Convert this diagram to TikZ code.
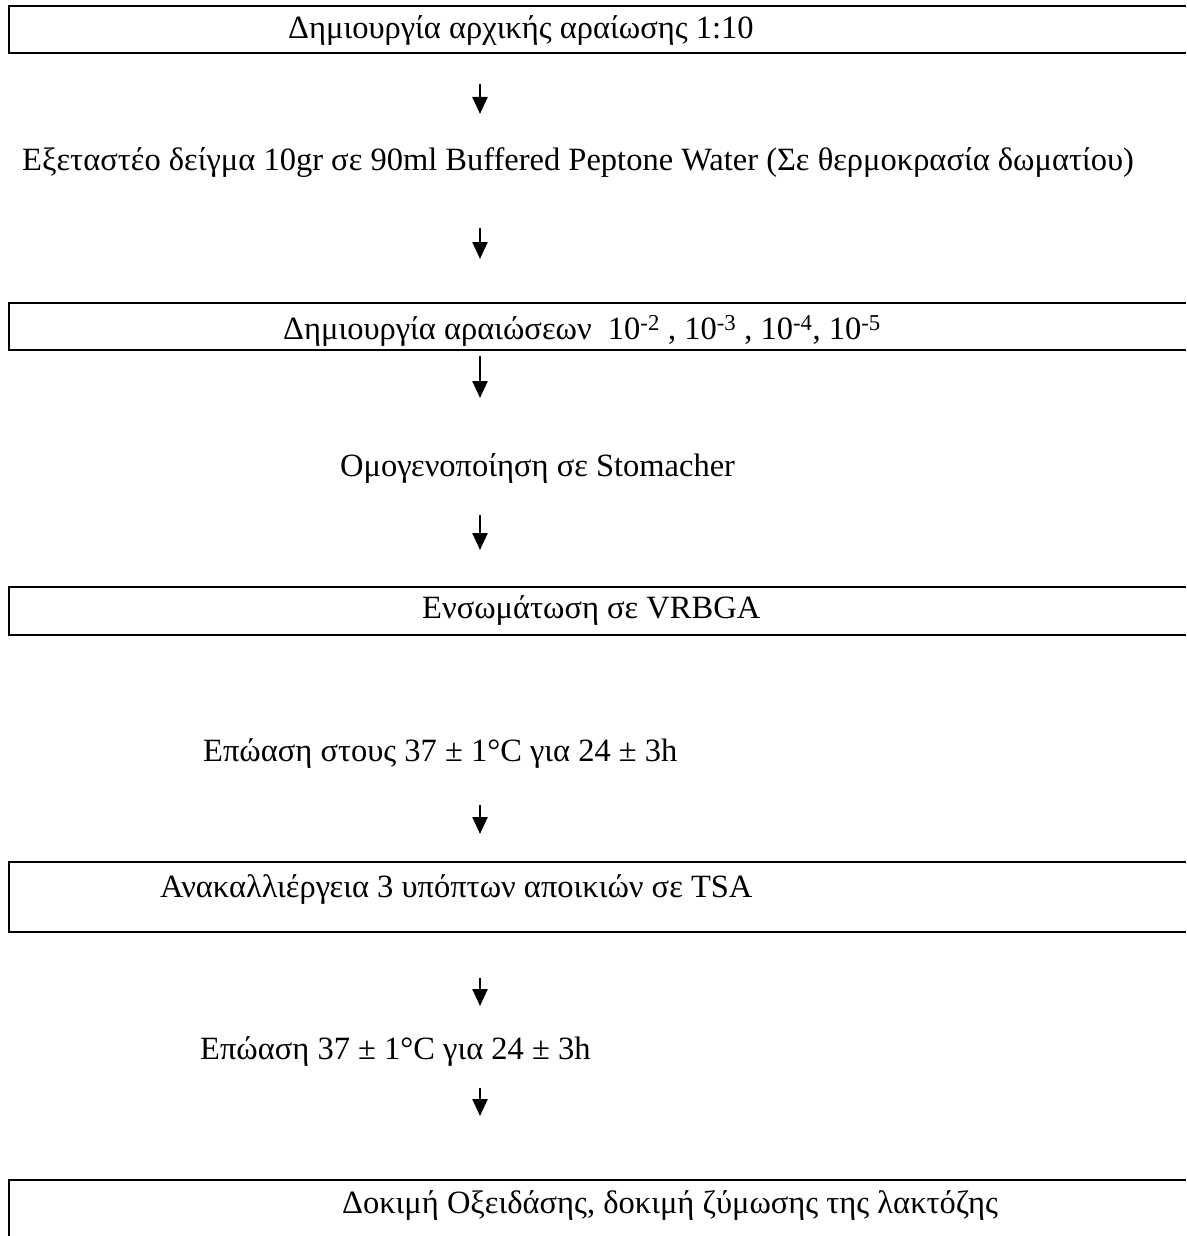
\documentclass[tikz,border=0pt]{standalone}
\usepackage{fontspec}
\setmainfont{Liberation Serif}
\usetikzlibrary{arrows.meta}
\begin{document}
\begin{tikzpicture}[x=1pt,y=-1pt,
  lbl/.style={anchor=west,inner sep=0pt,font=\fontsize{32.5}{39}\selectfont},
  boxline/.style={line width=2.6pt},
  flow/.style={line width=2.4pt,-{Triangle[width=15pt,length=17pt]}}]
\useasboundingbox (0,0) rectangle (1186,1236);
% boxes (open on the right, they run past the page edge)
\draw[boxline] (1186,6) -- (9,6) -- (9,53) -- (1186,53);
\draw[boxline] (1186,303) -- (9,303) -- (9,350) -- (1186,350);
\draw[boxline] (1186,587) -- (9,587) -- (9,635) -- (1186,635);
\draw[boxline] (1186,862) -- (9,862) -- (9,932) -- (1186,932);
\draw[boxline] (1186,1180) -- (9,1180) -- (9,1240);
% texts
\node[lbl] (t1) at (288,31) {Δημιουργία αρχικής αραίωσης 1:10};
\node[lbl] (t2) at (22,163) {Εξεταστέο δείγμα 10gr σε 90ml Buffered Peptone Water (Σε θερμοκρασία δωματίου)};
\node[lbl] (t3) at (283,331) {Δημιουργία αραιώσεων\ \ 10\textsuperscript{-2} , 10\textsuperscript{-3} , 10\textsuperscript{-4}, 10\textsuperscript{-5}};
\node[lbl] (t4) at (340,469) {Ομογενοποίηση σε Stomacher};
\node[lbl] (t5) at (422,611) {Ενσωμάτωση σε VRBGA};
\node[lbl] (t6) at (203,753) {Επώαση στους 37 ± 1°C για 24 ± 3h};
\node[lbl] (t7) at (160,889) {Ανακαλλιέργεια 3 υπόπτων αποικιών σε TSA};
\node[lbl] (t8) at (200,1051) {Επώαση 37 ± 1°C για 24 ± 3h};
\node[lbl] (t9) at (342,1206) {Δοκιμή Οξειδάσης, δοκιμή ζύμωσης της λακτόζης};
% arrow ends
\coordinate (a1s) at (480,84);   \coordinate (a1e) at (480,114);
\coordinate (a2s) at (480,228);  \coordinate (a2e) at (480,259);
\coordinate (a3s) at (480,356);  \coordinate (a3e) at (480,398);
\coordinate (a4s) at (480,515);  \coordinate (a4e) at (480,550);
\coordinate (a5s) at (480,805);  \coordinate (a5e) at (480,834);
\coordinate (a6s) at (480,978);  \coordinate (a6e) at (480,1006);
\coordinate (a7s) at (480,1088); \coordinate (a7e) at (480,1116);
\draw[flow] (a1s) -- (a1e);
\draw[flow] (a2s) -- (a2e);
\draw[flow] (a3s) -- (a3e);
\draw[flow] (a4s) -- (a4e);
\draw[flow] (a5s) -- (a5e);
\draw[flow] (a6s) -- (a6e);
\draw[flow] (a7s) -- (a7e);
\end{tikzpicture}
\end{document}
